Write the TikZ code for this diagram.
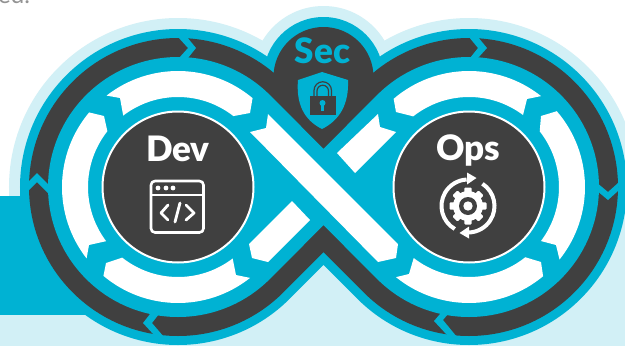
\documentclass[tikz,border=0pt]{standalone}
\usepackage{fontspec}
\setmainfont{Lato}
\newfontfamily\heavyfont{Lato Black}
\definecolor{teal1}{HTML}{00B2D3}
\definecolor{lite}{HTML}{D2F0F6}
\definecolor{dark}{HTML}{404040}
\newcommand\lobes[1]{
 (323.5,{187-1.41421*(#1-103)}) -- ({178+#1*.70711},{187-#1*.70711})
 arc[start angle=-45,end angle=-315,radius=#1pt]
 -- (323.5,{187+1.41421*(#1-103)}) -- ({469-#1*.70711},{187+#1*.70711})
 arc[start angle=135,end angle=-135,radius=#1pt] -- cycle}
\newcommand\whiteseg[7]{\fill[white] ([shift={(#1)}]#2:116pt) arc[start angle=#2,end angle=#3,radius=116pt]
 -- #4 -- ([shift={(#1)}]#5:90pt) arc[start angle=#5,end angle=#6,radius=90pt] -- #7 -- cycle;}
\tikzset{
 lbl/.style={font=\fontsize{35}{35}\selectfont\heavyfont,inner sep=0pt},
 iconline/.style={draw=white,line width=2.6pt,line cap=round,line join=round},
}
\begin{document}
\begin{tikzpicture}[x=1pt,y=1pt,yscale=-1]
\useasboundingbox (0,0) rectangle (625,346);
\clip (0,0) rectangle (625,346);
\fill[white] (0,0) rectangle (625,346);
\coordinate (L) at (178,187);
\coordinate (R) at (469,187);
\coordinate (H) at (323.5,77);
\node[text=gray!85,font=\fontsize{24}{24}\selectfont,inner sep=0pt,anchor=base west] (top) at (-2,3) {ed.};
% backgrounds
\fill[lite] (0,196) rectangle (625,346);
\fill[lite] \lobes{169};
\fill[lite] (H) circle (71pt);
\fill[teal1] (0,196) rectangle (110,315);
% bands
\fill[teal1] \lobes{158};
\fill[teal1] (H) circle (60pt);
\fill[dark] \lobes{149};
\fill[dark] (H) circle (50pt);
\fill[teal1] \lobes{130};
% chevrons in the dark band
\fill[teal1] (178,37)--(188,48)--(179,58)--(188,58)--(196,48)--(187,37)--cycle;
\fill[teal1] (469,37)--(478,48)--(470,58)--(478,58)--(487,48)--(478,37)--cycle;
\fill[teal1] (27,183)--(37,173)--(49,185)--(49,194)--(37,182)--(27,192)--cycle;
\fill[teal1] (596,182)--(608,192)--(618,183)--(618,191)--(608,200)--(596,190)--cycle;
\fill[teal1] (150,314)--(143,323)--(154,335)--(164,337)--(152,323)--(159,314)--cycle;
\fill[teal1] (440,314)--(434,321)--(447,335)--(457,337)--(443,320)--(448,314)--cycle;
% hubs
\fill[teal1] (L) circle (90pt);
\fill[teal1] (R) circle (90pt);
% white segments
\whiteseg{178,187}{-128}{-50}{(250,113)}{-52}{-127.5}{(120,98)}
\whiteseg{178,187}{-140}{-218}{(89,245)}{-217}{-141.7}{(104,116)}
\whiteseg{178,187}{51.6}{130}{(106,263)}{128.3}{52.6}{(236,275)}
\whiteseg{469,187}{-130.5}{-51.6}{(527,99)}{-53.1}{-128.3}{(396,112)}
\whiteseg{469,187}{-40.8}{38.7}{(556,245)}{36.9}{-38.2}{(541,116)}
\whiteseg{469,187}{50.3}{129}{(409,274)}{127.9}{51.3}{(541,262)}
\fill[white] (249,244)--(292,201)--(310,220)--(268,262)--(252,258)--cycle;
\fill[white] (337,153)--(378,114)--(380,127)--(396,132)--(355,173)--cycle;
\fill[white] (250,132)--(266,128)--(268,114)--(398,244)--(396,258)--(378,262)--cycle;
\filldraw[fill=dark,draw=white,line width=2pt] (L) circle (75.5pt);
\filldraw[fill=dark,draw=white,line width=2pt] (R) circle (75.5pt);
% labels
\node[lbl,text=white] (dev) at (178,148.5) {Dev};
\node[lbl,text=white] (ops) at (468.5,150) {Ops};
\node[lbl,text=teal1] (sec) at (322.5,51) {Sec};
% Dev icon
\draw[iconline,rounded corners=4pt] (151,181) rectangle (203.5,232.5);
\draw[iconline,line width=1.8pt] (151,195) -- (203.5,195);
\foreach \x in {158,166,173}{\fill[white] (\x,188) circle (2.4pt);}
\draw[iconline,line width=2.8pt] (168,205)--(161,213)--(168,220);
\draw[iconline,line width=2.8pt] (186,205)--(194,213)--(186,220);
\draw[iconline,line width=2.8pt] (180,203)--(175,222);
% Ops icon
\begin{scope}[shift={(468,206)}]
 \fill[white] (0,0) circle (15pt);
 \foreach \a in {0,45,...,315}{\fill[white,rotate=\a,rounded corners=1pt] (-3.6,10) rectangle (3.6,18.5);}
 \fill[dark] (0,0) circle (9pt);
 \fill[white] (0,0) circle (4.7pt);
 \draw[white,line width=4pt] (120:26.5pt) arc[start angle=120,end angle=267,radius=26.5pt];
 \draw[white,line width=4pt] (-57:26.5pt) arc[start angle=-57,end angle=88,radius=26.5pt];
 \fill[white] (-1,-33.5)--(8.5,-28)--(-1,-21.5)--cycle;
 \fill[white] (1,32.5)--(-8.5,27)--(1,20.5)--cycle;
\end{scope}
% shield
\fill[teal1] (322,72) -- (348,80) .. controls (349,104) and (340,120) .. (322,129) .. controls (304,120) and (296,104) .. (298,80) -- cycle;
\fill[dark] (310,96) rectangle (336,115);
\draw[dark,line width=1.2pt] (314,97) -- (314,90.5) arc[start angle=180,end angle=360,radius=8.75pt] -- (331.5,97);
\draw[dark,line width=1.2pt] (317,97) -- (317,91) arc[start angle=180,end angle=360,radius=5.75pt] -- (328.5,97);
\fill[teal1] (322.5,103) circle (3pt);
\fill[teal1] (321.2,103) rectangle (323.8,111);
\end{tikzpicture}
\end{document}
